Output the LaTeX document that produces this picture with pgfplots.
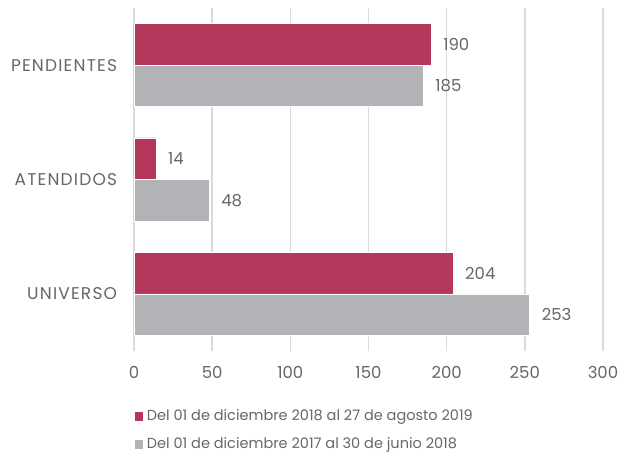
\documentclass[border=0pt]{standalone}
\usepackage{fontspec}
\setmainfont{Poppins}
\newfontfamily\capfont{Poppins}[LetterSpace=7]
\usepackage{pgfplots}
\pgfplotsset{compat=1.18}
\definecolor{crim}{HTML}{B3385B}
\definecolor{gbar}{HTML}{B1B3B6}
\definecolor{gridc}{HTML}{DADADA}
\definecolor{txt}{HTML}{666666}
\newcommand{\numfont}{\fontsize{16.5bp}{19bp}\selectfont}
\newcommand{\catfont}{\capfont\fontsize{17bp}{20bp}\selectfont}
\newcommand{\legfont}{\fontsize{14.5bp}{17bp}\selectfont}
\begin{document}
\begin{tikzpicture}
\useasboundingbox (-134bp,-103bp) rectangle (495bp,351bp);
\begin{axis}[
  scale only axis, width=469bp, height=343bp,
  xbar, xmin=0, xmax=300, ymin=-0.5, ymax=2.5,
  bar width=0.363,
  xtick={0,50,...,300}, ytick={0,1,2},
  yticklabels={UNIVERSO,ATENDIDOS,PENDIENTES},
  xmajorgrids, major grid style={gridc, line width=1.4bp},
  axis line style={draw=none}, tick style={draw=none},
  /pgf/number format/assume math mode=true,
  xticklabel style={font=\numfont, text=txt, inner sep=0pt, yshift=-15bp},
  yticklabel style={font=\catfont, text=txt, inner sep=0pt, xshift=-12.5bp},
  nodes near coords,
  nodes near coords style={font=\numfont, text=txt, anchor=west, inner sep=0pt, xshift=12bp},
  legend cell align=left,
  legend style={draw=none, fill=none, at={(-0.007,-0.163)}, anchor=north west,
    font=\legfont, text=txt, row sep=13bp, column sep=3bp,
    nodes={inner sep=0pt, text height=11bp, text depth=4bp}},
]
\addplot[fill=crim, draw=white, line width=0.5bp, bar shift=0.1815,
  legend image code/.code={\path[fill=crim] (0bp,-4.5bp) rectangle (9.5bp,5bp);}]
  coordinates {(204,0) (14,1) (190,2)};
\addlegendentry{Del 01 de diciembre 2018 al 27 de agosto 2019}
\addplot[fill=gbar, draw=white, line width=0.5bp, bar shift=-0.1815,
  legend image code/.code={\path[fill=gbar] (0bp,-4.5bp) rectangle (9.5bp,5bp);}]
  coordinates {(253,0) (48,1) (185,2)};
\addlegendentry{Del 01 de diciembre 2017 al 30 de junio 2018}
\end{axis}
\end{tikzpicture}
\end{document}
